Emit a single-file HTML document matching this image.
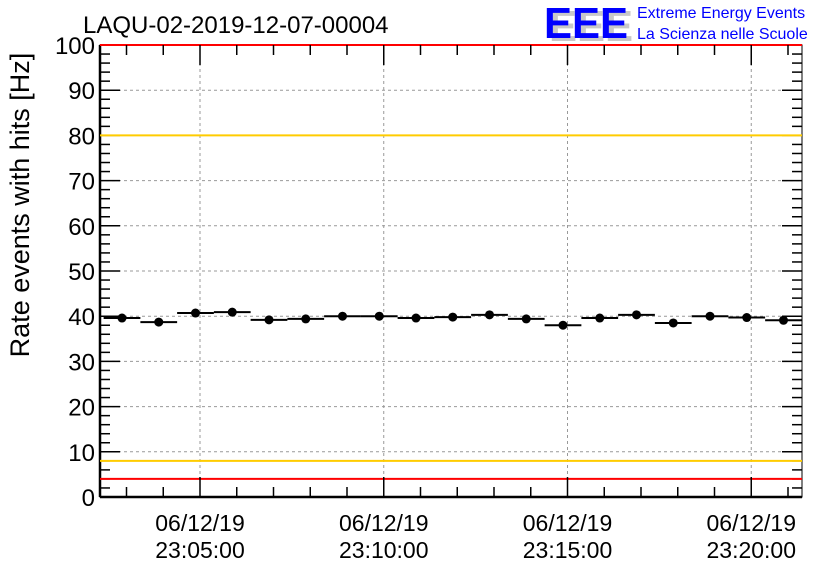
<!DOCTYPE html>
<html><head><meta charset="utf-8"><style>
body{margin:0;background:#fff;}
svg{display:block;font-family:"Liberation Sans",sans-serif;}
</style></head><body>
<svg id="c" width="836" height="572">
<text x="83" y="33" font-size="24">LAQU-02-2019-12-07-00004</text>
<g>
<text x="549" y="41" font-size="44" font-weight="bold" fill="#c8c8c8" textLength="84" lengthAdjust="spacingAndGlyphs">EEE</text>
<text x="544" y="38" font-size="44" font-weight="bold" fill="#0000ff" textLength="84" lengthAdjust="spacingAndGlyphs">EEE</text>
<text x="637" y="18" font-size="16" fill="#0000ff">Extreme Energy Events</text>
<text x="637" y="39" font-size="16" fill="#0000ff">La Scienza nelle Scuole</text>
</g>
<text transform="translate(29,205) rotate(-90)" text-anchor="middle" font-size="27">Rate events with hits [Hz]</text>
</svg>
<script>
const values=[39.6,38.7,40.7,40.9,39.2,39.4,40.0,40.0,39.6,39.8,40.3,39.4,38.0,39.6,40.3,38.5,40.0,39.7,39.1];
const yTicks=[0,10,20,30,40,50,60,70,80,90,100];
const xTickDates=["06/12/19","06/12/19","06/12/19","06/12/19"];
const xTickTimes=["23:05:00","23:10:00","23:15:00","23:20:00"];
const thresholds=[{v:80,c:"#ffcc00"},{v:8,c:"#ffcc00"},{v:100,c:"#ff0000"},{v:4,c:"#ff0000"}];
const L=100,R=802,T=45,B=497;
const svg=document.getElementById('c');const NS="http://www.w3.org/2000/svg";
const x0=122,minPx=36.75,firstMajorMin=(200-122)/36.75;
const xs=m=>x0+m*minPx;
const ys=v=>B-(v/100)*(B-T);
function el(t,a,p){const e=document.createElementNS(NS,t);for(const k in a)e.setAttribute(k,a[k]);(p||svg).appendChild(e);return e;}
yTicks.forEach(v=>{if(v>0&&v<100){const g=el('line',{x1:L,x2:R,y1:ys(v),y2:ys(v),stroke:'#999','stroke-dasharray':'3,3'});

}});
xTickTimes.forEach((t,i)=>{const x=xs(firstMajorMin+5*i);const g=el('line',{x1:x,x2:x,y1:T,y2:B,stroke:'#999','stroke-dasharray':'3,3'});

});
const fr=el('rect',{x:L,y:T,width:R-L,height:B-T,fill:'none',stroke:'#000','stroke-width':1});


el('line',{x1:L,x2:L,y1:T,y2:B,stroke:'#000','stroke-width':2.5});
el('line',{x1:L,x2:R,y1:B,y2:B,stroke:'#000','stroke-width':2.5});
for(let v=0;v<=100;v+=2){const y=ys(v);const len=v%10===0?20:10;
el('line',{x1:L,x2:L+len,y1:y,y2:y,stroke:'#000','stroke-width':1.5});
el('line',{x1:R,x2:R-len,y1:y,y2:y,stroke:'#000','stroke-width':1.5});}
thresholds.forEach(th=>{const l=el('line',{x1:L,x2:R,y1:ys(th.v),y2:ys(th.v),stroke:th.c,'stroke-width':2});

});
yTicks.forEach(v=>{const t=el('text',{x:L-5,y:ys(v)+9,'text-anchor':'end','font-size':24});t.textContent=v;

});
for(let m=-3;m<=20;m++){const x=xs(firstMajorMin+m-2);if(x<=L||x>=R)continue;const maj=((m-2)%5+5)%5===0;const len=maj?20:10;
el('line',{x1:x,x2:x,y1:B,y2:B-len,stroke:'#000','stroke-width':1.5});
el('line',{x1:x,x2:x,y1:T,y2:T+len,stroke:'#000','stroke-width':1.5});}
xTickTimes.forEach((t,i)=>{const x=xs(firstMajorMin+5*i);
const a=el('text',{x:x,y:531,'text-anchor':'middle','font-size':23});a.textContent=xTickDates[i];


const b=el('text',{x:x,y:558,'text-anchor':'middle','font-size':23});b.textContent=t;

});
values.forEach((v,i)=>{const x=xs(i),y=ys(v);
const l=el('line',{x1:x-minPx/2,x2:x+minPx/2,y1:y,y2:y,stroke:'#000','stroke-width':2});


const c=el('circle',{cx:x,cy:y,r:4.5,fill:'#000'});

});
</script>
</body></html>
